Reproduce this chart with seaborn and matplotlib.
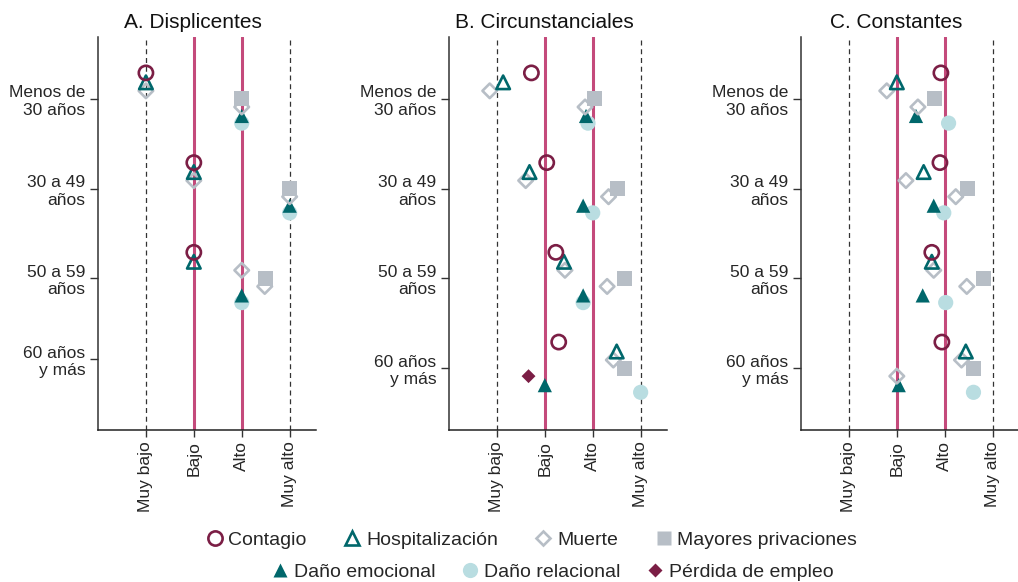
import numpy as np
import pandas as pd
import matplotlib
matplotlib.use("Agg")
import matplotlib.pyplot as plt
from matplotlib.lines import Line2D
import seaborn as sns

nan = np.nan

# Categorías
paneles = ["A. Displicentes", "B. Circunstanciales", "C. Constantes"]
edades = ["Menos de\n30 años", "30 a 49\naños", "50 a 59\naños", "60 años\ny más"]
niveles = ["Muy bajo", "Bajo", "Alto", "Muy alto"]

# Valores (1 = Muy bajo, 2 = Bajo, 3 = Alto, 4 = Muy alto)
# una lista por panel (A, B, C), cada una con los 4 grupos de edad
contagio = [[1.0, 2.0, 2.0, nan], [1.72, 2.04, 2.23, 2.29], [2.92, 2.90, 2.73, 2.94]]
hospitalizacion = [[1.0, 2.0, 2.0, nan], [1.13, 1.68, 2.40, 3.50], [2.00, 2.56, 2.73, 3.44]]
muerte = [[1.0, 2.0, 3.0, nan], [0.85, 1.60, 2.42, 3.43], [1.79, 2.19, 2.77, 3.35]]
privaciones = [[3.0, 4.0, 3.50, nan], [3.03, 3.52, 3.66, 3.66], [2.79, 3.48, 3.81, 3.60]]
muerte_2 = [[3.0, 4.0, 3.48, nan], [2.84, 3.33, 3.30, nan], [2.44, 3.23, 3.46, 2.00]]
perdida_empleo = [[nan, nan, nan, nan], [nan, nan, nan, 1.66], [nan, nan, nan, nan]]
dano_emocional = [[3.0, 4.0, 3.0, nan], [2.86, 2.80, 2.80, 2.00], [2.40, 2.77, 2.54, 2.04]]
dano_relacional = [[3.0, 4.0, 3.0, nan], [2.90, 3.00, 2.80, 4.00], [3.08, 2.98, 3.02, 3.60]]

series = {
    "Contagio": contagio,
    "Hospitalización": hospitalizacion,
    "Muerte": muerte,
    "Mayores privaciones": privaciones,
    "muerte_2": muerte_2,
    "Pérdida de empleo": perdida_empleo,
    "Daño emocional": dano_emocional,
    "Daño relacional": dano_relacional,
}

# colores
granate = "#7b1e45"
teal = "#00676b"
gris = "#b7bec6"
celeste = "#b9dde1"
rosa = "#c44a7b"

# estilo de cada serie: marcador, tamaño, relleno, borde, grosor, desplazamiento vertical
estilos = {
    "Contagio": dict(marker="o", s=105, fc="none", ec=granate, lw=1.9, off=-0.29),
    "Hospitalización": dict(marker="^", s=95, fc="none", ec=teal, lw=1.9, off=-0.185),
    "Muerte": dict(marker="D", s=55, fc="none", ec=gris, lw=1.9, off=-0.09),
    "Mayores privaciones": dict(marker="s", s=115, fc=gris, ec="none", lw=0, off=0.0),
    "muerte_2": dict(marker="D", s=55, fc="none", ec=gris, lw=1.9, off=0.09),
    "Pérdida de empleo": dict(marker="D", s=50, fc=granate, ec="none", lw=0, off=0.09),
    "Daño emocional": dict(marker="^", s=105, fc=teal, ec="none", lw=0, off=0.19),
    "Daño relacional": dict(marker="o", s=120, fc=celeste, ec="none", lw=0, off=0.27),
}

filas = []
for nombre, valores in series.items():
    for p, panel in enumerate(paneles):
        for e in range(len(edades)):
            filas.append({"panel": panel, "serie": nombre, "edad": e + 1,
                          "valor": valores[p][e]})
df = pd.DataFrame(filas).dropna()

sns.set_style("white")
plt.rcParams["font.family"] = ["Liberation Sans", "DejaVu Sans"]

fig = plt.figure(figsize=(10.18, 5.82), dpi=100)
izq = [98, 449, 801]
ancho = 218
for p, panel in enumerate(paneles):
    ax = fig.add_axes([izq[p] / 1018, 1 - 430 / 582, ancho / 1018, 393 / 582])
    ax.axvline(1, color="#333333", ls=(0, (4, 3)), lw=0.9, zorder=1)
    ax.axvline(4, color="#333333", ls=(0, (4, 3)), lw=0.9, zorder=1)
    ax.axvline(2, color=rosa, lw=2.2, zorder=1)
    ax.axvline(3, color=rosa, lw=2.2, zorder=1)

    # dibujar de abajo hacia arriba para que los marcadores superiores queden encima
    for z, nombre in enumerate(reversed(list(series.keys()))):
        st = estilos[nombre]
        sub = df[(df["panel"] == panel) & (df["serie"] == nombre)].copy()
        if sub.empty:
            continue
        sub["y"] = sub["edad"] + st["off"]
        sns.scatterplot(data=sub, x="valor", y="y", ax=ax, marker=st["marker"],
                        s=st["s"], color=st["ec"] if st["fc"] == "none" else st["fc"],
                        facecolor=st["fc"], edgecolor=st["ec"], linewidth=st["lw"],
                        zorder=3 + z, legend=False, clip_on=False)

    ax.set_xlim(0, 4.55)
    ax.set_ylim(4.69, 0.31)
    ax.set_xticks([1, 2, 3, 4])
    ax.set_xticklabels(niveles, rotation=90, fontsize=12.5)
    yt = [1, 2, 3, 3.9] if p == 0 else [1, 2, 3, 4]
    ax.set_yticks(yt)
    ax.set_yticklabels(edades, fontsize=12.5, linespacing=1.2)
    ax.set_xlabel("")
    ax.set_ylabel("")
    ax.tick_params(axis="y", length=6, width=1, color="#333333", pad=3, left=True)
    ax.tick_params(axis="x", length=5, width=1, color="#333333", pad=3, bottom=True)
    for lado in ["top", "right"]:
        ax.spines[lado].set_visible(False)
    ax.spines["left"].set_color("#333333")
    ax.spines["bottom"].set_color("#222222")
    ax.spines["left"].set_linewidth(1.1)
    ax.spines["bottom"].set_linewidth(1.1)
    ax.text(0.437, 1.013, panel, transform=ax.transAxes, ha="center", va="bottom",
            fontsize=15, color="#111111")


def manija(nombre):
    st = estilos[nombre]
    tam = np.sqrt(st["s"])
    if st["fc"] == "none":
        return Line2D([], [], ls="", marker=st["marker"], markersize=tam,
                      markerfacecolor="none", markeredgecolor=st["ec"],
                      markeredgewidth=st["lw"])
    return Line2D([], [], ls="", marker=st["marker"], markersize=tam,
                  markerfacecolor=st["fc"], markeredgecolor="none")


fila1 = ["Contagio", "Hospitalización", "Muerte", "Mayores privaciones"]
fila2 = ["Daño emocional", "Daño relacional", "Pérdida de empleo"]
for nombres, yy, xx, esp in [(fila1, 540, 531, 1.85), (fila2, 572, 552, 1.3)]:
    fig.legend([manija(n) for n in nombres], nombres, ncol=len(nombres),
               loc="center", bbox_to_anchor=(xx / 1018, 1 - yy / 582),
               frameon=False, fontsize=14, handletextpad=0.2, columnspacing=esp,
               handlelength=1.0, borderaxespad=0)

fig.savefig("out.png", dpi=100)
